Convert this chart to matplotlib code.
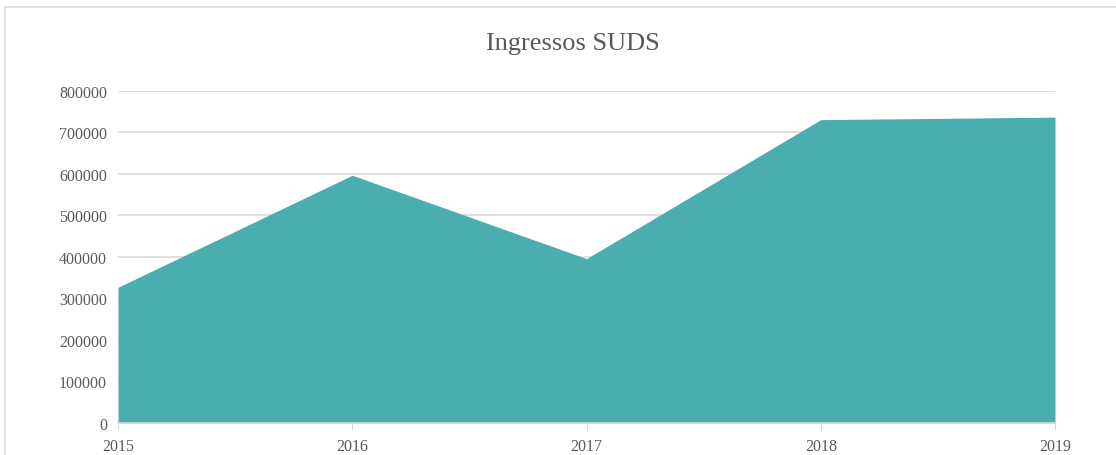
import matplotlib.pyplot as plt
from matplotlib.patches import Rectangle

years = [2015, 2016, 2017, 2018, 2019]
ingressos = [327000, 597000, 396000, 731000, 737000]
yticks = [0, 100000, 200000, 300000, 400000, 500000, 600000, 700000, 800000]

W, H = 1116, 456
fig = plt.figure(figsize=(W / 100, H / 100), dpi=100)
fig.patch.set_facecolor('white')

# frame of the chart area (right and bottom edges fall outside the image)
fig.patches.append(Rectangle((5 / W, -0.2), 1.2, 1.2 - 8 / H, transform=fig.transFigure,
                             fill=False, edgecolor='#d9d9d9', linewidth=1.2))

ax = fig.add_axes([118 / W, 1 - 424 / H, (1055 - 118) / W, (424 - 92) / H])
ax.fill_between(years, ingressos, 0, color='#4aadaf', linewidth=0, zorder=2)

ax.set_xlim(years[0], years[-1])
ax.set_ylim(0, 800000)
ax.set_yticks(yticks)
ax.set_yticklabels([str(v) for v in yticks])
ax.set_xticks(years)
ax.set_xticklabels([str(y) for y in years])

ax.grid(axis='y', color='#d9d9d9', linewidth=1.2, zorder=1)
for s in ['top', 'right', 'left']:
    ax.spines[s].set_visible(False)
ax.spines['bottom'].set_color('#d9d9d9')
ax.spines['bottom'].set_linewidth(1.2)
ax.spines['bottom'].set_zorder(3)

ax.tick_params(axis='y', length=0, pad=8, labelsize=11.5, labelcolor='#595959')
ax.tick_params(axis='x', length=5, color='#d9d9d9', pad=6, labelsize=11.5, labelcolor='#595959')
for lab in ax.get_xticklabels() + ax.get_yticklabels():
    lab.set_family('Liberation Serif')

fig.text(573 / W, 1 - 44 / H, 'Ingressos SUDS', ha='center', va='center',
         fontsize=19, color='#595959', family='Liberation Serif')

fig.savefig('out.png', dpi=100)
